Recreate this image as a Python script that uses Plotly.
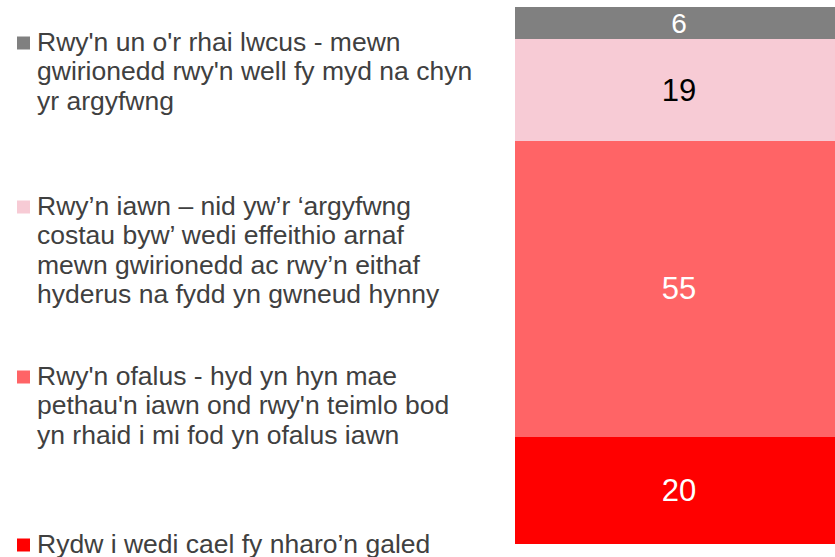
import plotly.graph_objects as go

# Data (bottom to top of the stacked bar)
categories = ["Total"]
series_names = [
    "Rydw i wedi cael fy nharo’n galed",
    "Rwy'n ofalus - hyd yn hyn mae pethau'n iawn ond rwy'n teimlo bod yn rhaid i mi fod yn ofalus iawn",
    "Rwy’n iawn – nid yw’r ‘argyfwng costau byw’ wedi effeithio arnaf mewn gwirionedd ac rwy’n eithaf hyderus na fydd yn gwneud hynny",
    "Rwy'n un o'r rhai lwcus - mewn gwirionedd rwy'n well fy myd na chyn yr argyfwng",
]
values = [20, 55, 19, 6]
colors = ["#FF0000", "#FF6466", "#F7CBD5", "#808080"]
text_colors = ["white", "white", "black", "white"]

# Legend label lines (top to bottom as displayed)
legend_lines = [
    ["Rwy'n un o'r rhai lwcus - mewn", "gwirionedd rwy'n well fy myd na chyn", "yr argyfwng"],
    ["Rwy’n iawn – nid yw’r ‘argyfwng", "costau byw’ wedi effeithio arnaf", "mewn gwirionedd ac rwy’n eithaf", "hyderus na fydd yn gwneud hynny"],
    ["Rwy'n ofalus - hyd yn hyn mae", "pethau'n iawn ond rwy'n teimlo bod", "yn rhaid i mi fod yn ofalus iawn"],
    ["Rydw i wedi cael fy nharo’n galed"],
]
legend_colors = ["#808080", "#F7CBD5", "#FF6466", "#FF0000"]

W, H = 835, 557
FONT = "Liberation Sans, Arial, sans-serif"

fig = go.Figure()
for name, v, c, tc in zip(series_names, values, colors, text_colors):
    fig.add_trace(go.Bar(
        x=categories, y=[v], name=name, marker_color=c, marker_line_width=0,
        text=[str(v)], textposition="inside", insidetextanchor="middle",
        textangle=0, constraintext="none",
        textfont=dict(color=tc, size=31 if v > 10 else 28, family=FONT), width=1,
        showlegend=False, hoverinfo="skip",
    ))

# legend (drawn manually)
first_baselines = [51, 215, 385, 553]
line_h = 29.5
fs = 26.5
for lines, col, b in zip(legend_lines, legend_colors, first_baselines):
    for i, ln in enumerate(lines):
        yb = b + i * line_h
        fig.add_annotation(
            x=36 / W, y=1 - yb / H, xref="paper", yref="paper",
            xanchor="left", yanchor="bottom", yshift=-6.6,
            text=ln, showarrow=False, align="left",
            font=dict(size=fs, color="#404040", family=FONT), borderpad=0,
        )
    cy = b - 8
    fig.add_shape(type="rect", xref="paper", yref="paper",
                  x0=17 / W, x1=30 / W,
                  y0=1 - (cy - 6.5) / H, y1=1 - (cy + 6.5) / H,
                  fillcolor=col, line_width=0)

# bar runs past the right edge of the picture (visible part 515..835 of 515..843)
vis_frac = 320 / 328
fig.update_layout(
    width=W, height=H, margin=dict(l=0, r=0, t=0, b=0),
    barmode="stack", plot_bgcolor="white", paper_bgcolor="white",
    xaxis=dict(domain=[515 / W, 1], range=[-0.5, -0.5 + vis_frac], visible=False),
    yaxis=dict(domain=[(H - 544) / H, (H - 7) / H], range=[0, 100], visible=False),
    font=dict(family=FONT),
)

fig.write_html(
    "out.html",
    config={"displayModeBar": False, "staticPlot": True},
    post_script="document.body.style.margin='0';document.body.style.overflow='hidden';",
)
